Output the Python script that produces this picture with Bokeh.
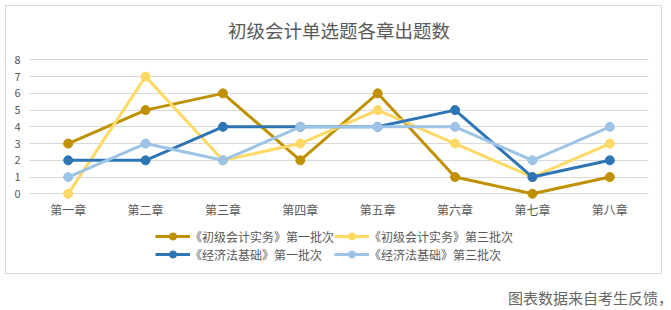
from bokeh.plotting import figure
from bokeh.models import (Range1d, FactorRange, Legend, LegendItem, Title, FixedTicker, Div)
from bokeh.layouts import column
from bokeh.embed import file_html
from bokeh.resources import INLINE

chapters = ["第一章", "第二章", "第三章", "第四章", "第五章", "第六章", "第七章", "第八章"]
s1_name = "《初级会计实务》第一批次"
s1 = [3, 5, 6, 2, 6, 1, 0, 1]
s2_name = "《初级会计实务》第三批次"
s2 = [0, 7, 2, 3, 5, 3, 1, 3]
s3_name = "《经济法基础》第一批次"
s3 = [2, 2, 4, 4, 4, 5, 1, 2]
s4_name = "《经济法基础》第三批次"
s4 = [1, 3, 2, 4, 4, 4, 2, 4]
colors = ["#BF9000", "#FFD966", "#2E75B6", "#9DC3E6"]
y_ticks = [0, 1, 2, 3, 4, 5, 6, 7, 8]
title_text = "初级会计单选题各章出题数"
footer_text = "图表数据来自考生反馈，"

FONT = "Noto Sans CJK SC"
TXT = "#595959"

# ---- main chart ----
p = figure(width=655, height=220, x_range=FactorRange(*chapters),
           y_range=Range1d(-0.4, 8.5), output_backend="svg", toolbar_location=None,
           min_border_left=23, min_border_right=13, min_border_top=42,
           min_border_bottom=26, title=None)
p.outline_line_color = None
p.background_fill_color = "white"
p.border_fill_color = "white"

p.xgrid.grid_line_color = None
p.ygrid.ticker = FixedTicker(ticks=y_ticks)
p.ygrid.grid_line_color = "#d9d9d9"
p.ygrid.grid_line_width = 1

p.xaxis.axis_line_color = None
p.xaxis.major_tick_line_color = None
p.xaxis.major_tick_out = 0
p.xaxis.major_label_standoff = 0
p.xaxis.major_label_text_font = FONT
p.xaxis.major_label_text_font_size = "12px"
p.xaxis.major_label_text_color = TXT

p.yaxis.ticker = FixedTicker(ticks=y_ticks)
p.yaxis.axis_line_color = None
p.yaxis.major_tick_line_color = None
p.yaxis.minor_tick_line_color = None
p.yaxis.major_tick_out = 0
p.yaxis.major_label_standoff = 9
p.yaxis.major_label_text_font = FONT
p.yaxis.major_label_text_font_size = "11px"
p.yaxis.major_label_text_color = TXT

names = [s1_name, s2_name, s3_name, s4_name]
values = [s1, s2, s3, s4]
for vals, col in zip(values, colors):
    p.line(x=chapters, y=vals, line_color=col, line_width=3)
    p.scatter(x=chapters, y=vals, size=9, marker="circle", fill_color=col, line_color=col)

p.add_layout(Title(text=title_text, align="center", text_font=FONT,
                   text_font_size="18.5px", text_font_style="normal",
                   text_color=TXT, standoff=17), "above")

# ---- legend strip (same box); series drawn out of view, only legend shows ----
lg = figure(width=655, height=47, x_range=FactorRange(*chapters), y_range=Range1d(100, 101),
            output_backend="svg", toolbar_location=None, min_border=0,
            x_axis_type=None, y_axis_type=None, title=None)
lg.outline_line_color = None
lg.grid.visible = False
items = []
for name, vals, col in zip(names, values, colors):
    l = lg.line(x=chapters, y=vals, line_color=col, line_width=3)
    s = lg.scatter(x=chapters, y=vals, size=9, marker="circle", fill_color=col, line_color=col)
    items.append(LegendItem(label=name, renderers=[l, s]))
legend = Legend(items=items, orientation="horizontal", ncols=2, location=(126, 10),
                padding=0, margin=0, spacing=0, border_line_color=None,
                background_fill_alpha=0, glyph_width=35, glyph_height=18,
                label_text_font=FONT, label_text_font_size="12px",
                label_text_color=TXT, label_standoff=0, label_height=18)
lg.add_layout(legend, "center")

box = column(p, lg, spacing=0, margin=(5, 0, 0, 5),
             styles={"border": "1px solid #d9d9d9"})

footer = Div(text=footer_text, width=170, height=24, margin=(14, 0, 0, 508),
             styles={"font-family": FONT, "font-size": "15px", "color": "#666666",
                     "white-space": "nowrap", "line-height": "20px"})

layout = column(box, footer, spacing=0)
open("out.html", "w").write(file_html(layout, INLINE))
